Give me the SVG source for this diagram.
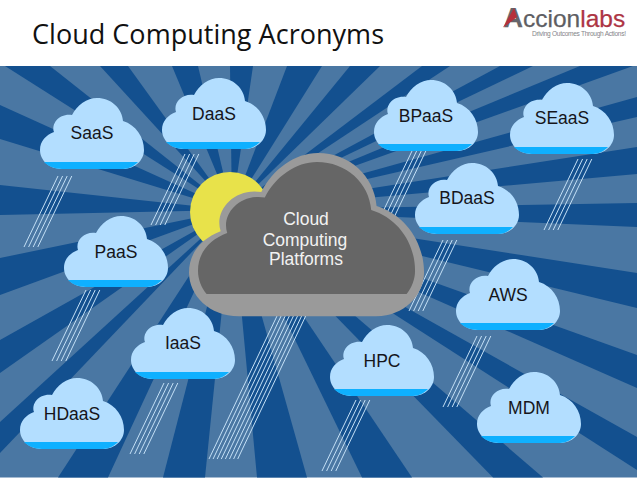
<svg xmlns="http://www.w3.org/2000/svg" width="638" height="479" viewBox="0 0 638 479">
<style>
.t{font-family:"Liberation Sans",Arial,sans-serif;font-size:17.5px;fill:#15151a;text-anchor:middle}
.w{font-family:"Liberation Sans",Arial,sans-serif;font-size:17.5px;fill:#f2f2f2;text-anchor:middle}
.ray{fill:#13508f}
.r{stroke:#c4e0f6;stroke-width:1;fill:none}
</style>
<defs>
<path id="shape" d="M22,71C9,71 0,62 0,52C0,43 6,37 14,34C11,25 20,15 32,17C37,7 47,0 57,0C71,0 82,10 83,23C96,27 104,39 104,52C104,62 95,71 83,71Z"/>
<g id="cloud">
<use href="#shape" fill="#b3deff"/>
<path d="M4,64H98C94,68 89,71 83,71H22C14,71 8,68 4,64Z" fill="#0fb0ff"/>
</g>
<g id="rain" class="r">
<path d="M0,0L-34,71M4.600,0L-29.400,71M9.200,0L-24.800,71M13.800,0L-20.200,71"/>
</g>
<g id="rainBig" class="r">
<path d="M0,0L-68,143M4.100,0L-63.900,143M8.200,0L-59.800,143M12.300,0L-55.700,143M16.400,0L-51.600,143M20.500,0L-47.500,143M24.600,0L-43.400,143M28.700,0L-39.300,143"/>
</g>
<clipPath id="innerClip"><rect x="180" y="150" width="250" height="144"/></clipPath>
</defs>
<rect width="638" height="479" fill="#fff"/>
<g id="title">
<text x="32" y="44" font-family="'Open Sans','Noto Sans',sans-serif" font-size="27" fill="#111" textLength="352">Cloud Computing Acronyms</text>
</g>
<g id="logo">
<text x="503.500" y="27" font-family="'Liberation Sans',Arial,sans-serif" font-size="24.500" fill="#5e5e63" stroke="#5e5e63" stroke-width="0.250"><tspan font-size="27" font-weight="bold" fill="#66666b">A</tspan><tspan>ccion</tspan><tspan fill="#ad3544" stroke="#ad3544">labs</tspan></text>
<path d="M503,27.500L514,8L517,17L508,24Z" fill="#b5303c"/>
<text x="532" y="35.500" font-family="'Liberation Sans',Arial,sans-serif" font-size="6.600" fill="#85858a" textLength="94">Driving Outcomes Through Actions!</text>
</g>
<g id="background">
<rect x="0" y="66" width="637" height="411.500" fill="#4a77a3"/>
<g class="ray">
<polygon points="232,210 5,66 50,66"/>
<polygon points="232,210 100,66 128,66"/>
<polygon points="232,210 172,66 198,66"/>
<polygon points="232,210 230,66 253,66"/>
<polygon points="232,210 287,66 322,66"/>
<polygon points="232,210 350,66 380,66"/>
<polygon points="232,210 422,66 450,66"/>
<polygon points="232,210 500,66 533,66"/>
<polygon points="232,210 580,66 633,66"/>
<polygon points="232,210 637,97 637,117"/>
<polygon points="232,210 637,147 637,174"/>
<polygon points="232,210 637,203 637,227"/>
<polygon points="232,210 637,273 637,308"/>
<polygon points="232,210 637,355 637,388"/>
<polygon points="232,210 637,437 637,470"/>
<polygon points="232,210 493,477.500 543,477.500"/>
<polygon points="232,210 362,477.500 412,477.500"/>
<polygon points="232,210 257,477.500 307,477.500"/>
<polygon points="232,210 163,477.500 205,477.500"/>
<polygon points="232,210 58,477.500 108,477.500"/>
<polygon points="232,210 0,422 0,453"/>
<polygon points="232,210 0,340 0,373"/>
<polygon points="232,210 0,258 0,295"/>
<polygon points="232,210 0,185 0,215"/>
<polygon points="232,210 0,105 0,139"/>
</g>
</g>
<g id="sun"><circle cx="230" cy="212" r="40" fill="#e8e24a"/></g>
<g id="connectors">
<use href="#rain" x="58" y="176"/>
<use href="#rain" x="185" y="154"/>
<use href="#rain" x="412" y="151"/>
<use href="#rain" x="578" y="159"/>
<use href="#rain" x="443" y="240"/>
<use href="#rain" x="86" y="290"/>
<use href="#rain" x="164" y="383"/>
<use href="#rain" x="477" y="336"/>
<use href="#rain" x="356" y="400"/>
<use href="#rainBig" x="277" y="316"/>
</g>
<g id="cloud-platforms">
<use href="#shape" transform="translate(189,153) scale(2.26,2.3)" fill="#9a9a9a"/>
<g clip-path="url(#innerClip)"><use href="#shape" transform="translate(198,162) scale(2.087,2.09)" fill="#666666"/></g>
<text class="w" x="306" y="225">Cloud</text>
<text class="w" x="305" y="246">Computing</text>
<text class="w" x="306" y="265">Platforms</text>
</g>
<g id="saas"><use href="#cloud" x="40" y="98"/><text class="t" x="92" y="139">SaaS</text></g>
<g id="daas"><use href="#cloud" x="162" y="78"/><text class="t" x="214" y="120">DaaS</text></g>
<g id="bpaas"><use href="#cloud" x="374" y="80"/><text class="t" x="426" y="122">BPaaS</text></g>
<g id="seaas"><use href="#cloud" x="510" y="83"/><text class="t" x="562" y="124">SEaaS</text></g>
<g id="bdaas"><use href="#cloud" x="415" y="163"/><text class="t" x="467" y="204">BDaaS</text></g>
<g id="paas"><use href="#cloud" x="64" y="216"/><text class="t" x="116" y="258">PaaS</text></g>
<g id="iaas"><use href="#cloud" x="131" y="308"/><text class="t" x="183" y="349">IaaS</text></g>
<g id="hdaas"><use href="#cloud" x="20" y="378"/><text class="t" x="72" y="420">HDaaS</text></g>
<g id="aws"><use href="#cloud" x="456" y="259"/><text class="t" x="508" y="301">AWS</text></g>
<g id="hpc"><use href="#cloud" x="330" y="325"/><text class="t" x="382" y="367">HPC</text></g>
<g id="mdm"><use href="#cloud" x="477" y="372"/><text class="t" x="529" y="414">MDM</text></g>
</svg>
